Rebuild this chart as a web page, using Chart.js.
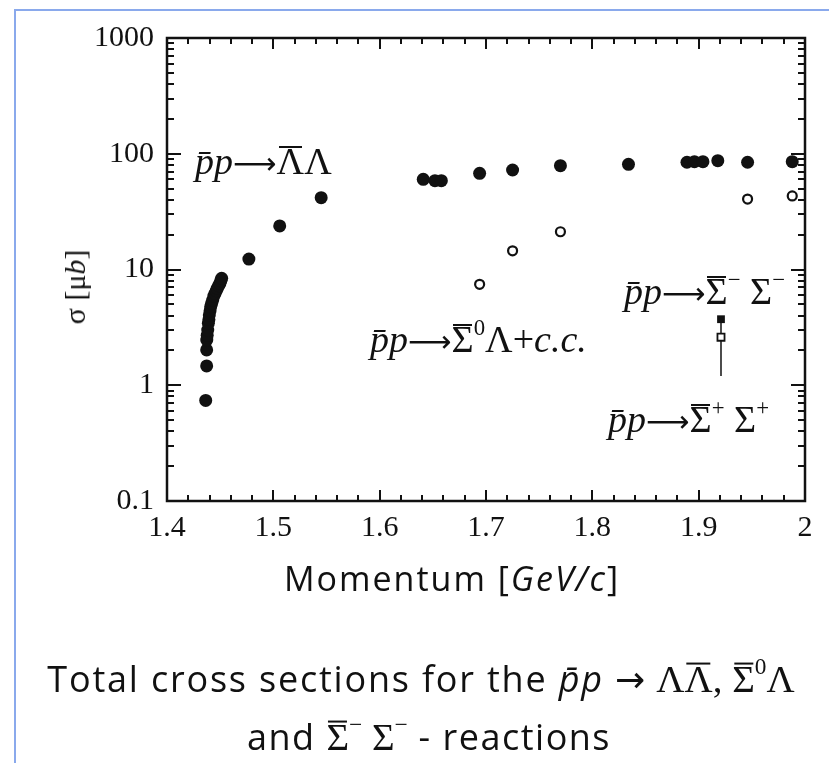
<!DOCTYPE html>
<html>
<head>
<meta charset="utf-8">
<title>Total cross sections</title>
<script src="https://cdn.jsdelivr.net/npm/chart.js@4"></script>
<style>
  body { margin: 0; background: #fff; }
  #page { position: relative; width: 829px; height: 763px; overflow: hidden; }
  #edge { position: absolute; left: 14px; top: 9px; right: -10px; bottom: -10px;
          border-left: 2px solid #8aa9ec; border-top: 2px solid #8aa9ec; }
  canvas { position: absolute; left: 0; top: 0; }
  .txt { position: absolute; white-space: nowrap; color: #111; line-height: 1; }
  .rx { font-family: 'Liberation Serif', serif; font-size: 38px; }
  .rx sup, .cap sup { font-size: 0.6em; vertical-align: 0.75em; line-height: 0; }
  /* bar over a capital, sitting just above cap height */
  .ov { position: relative; }
  .ov::before { content: ''; position: absolute; left: 8%; right: 8%; top: 0.15em;
                border-top: 2px solid #111; }
  .arr { font-family: 'DejaVu Sans', sans-serif; font-size: 0.8em; }
  .cap { font-family: 'Open Sans', sans-serif; font-size: 36px; letter-spacing: 1.5px; }
  .cap .arr { font-size: 1em; letter-spacing: 0; }
  .gr { font-family: 'Liberation Serif', serif; font-size: 1.08em; letter-spacing: 0; }
</style>
</head>
<body>
<div id="page">
  <div id="edge"></div>
  <canvas id="c" width="829" height="763"></canvas>

  <div class="txt rx" style="left:195px; top:142px"><i>p&#772;p</i><span class="arr">⟶</span><span class="ov">Λ</span>Λ</div>
  <div class="txt rx" style="left:624px; top:272px"><i>p&#772;p</i><span class="arr">⟶</span><span class="ov">Σ</span><sup>−</sup> Σ<sup>−</sup></div>
  <div class="txt rx" style="left:370px; top:320px"><i>p&#772;p</i><span class="arr">⟶</span><span class="ov">Σ</span><sup>0</sup>Λ+<i>c.c.</i></div>
  <div class="txt rx" style="left:608px; top:400px"><i>p&#772;p</i><span class="arr">⟶</span><span class="ov">Σ</span><sup>+</sup> Σ<sup>+</sup></div>

  <div class="txt rx" style="left:75px; top:287px; font-size:30px; transform:translate(-50%,-50%) rotate(-90deg)">σ [μ<i>b</i>]</div>
  <div class="txt cap" style="left:452px; top:578px; font-size:34px; letter-spacing:2px; transform:translate(-50%,-50%)">Momentum [<i>GeV/c</i>]</div>

  <div class="txt cap" style="left:421px; top:679px; letter-spacing:1.8px; transform:translate(-50%,-50%)">Total cross sections for the <i>p&#772;p</i> <span class="arr">→</span> <span class="gr">Λ<span class="ov">Λ</span>, <span class="ov">Σ</span><sup>0</sup>Λ</span></div>
  <div class="txt cap" style="left:429px; top:737px; transform:translate(-50%,-50%)">and <span class="gr"><span class="ov">Σ</span><sup>−</sup> Σ<sup>−</sup></span> - reactions</div>
</div>

<script>
// axis ticks
const X_TICKS  = [1.4, 1.5, 1.6, 1.7, 1.8, 1.9, 2.0];
const X_LABELS = ['1.4', '1.5', '1.6', '1.7', '1.8', '1.9', '2'];
const Y_TICKS  = [0.1, 1, 10, 100, 1000];
const Y_LABELS = ['0.1', '1', '10', '100', '1000'];

// pbar p -> Lambdabar Lambda  (momentum GeV/c, sigma in mub)
const LL_P   = [1.4364, 1.4373, 1.4373, 1.4374, 1.4378, 1.4383, 1.4389, 1.4394, 1.4398, 1.4405, 1.4411,
                1.4420, 1.4430, 1.4441, 1.4452, 1.4463, 1.4473, 1.4486, 1.4498, 1.4506, 1.4514,
                1.477, 1.506, 1.545, 1.641, 1.652, 1.658, 1.694, 1.725, 1.770, 1.834,
                1.889, 1.896, 1.904, 1.918, 1.946, 1.988];
const LL_SIG = [0.74, 1.47, 2.02, 2.46, 2.7, 3.0, 3.43, 3.7, 4.05, 4.4, 4.77,
                5.1, 5.45, 5.9, 6.23, 6.55, 6.88, 7.25, 7.6, 8.0, 8.39,
                12.3, 23.8, 41.7, 60.1, 58.5, 58.5, 67.8, 72.4, 78.9, 81.1,
                84.4, 85.4, 85.4, 87.1, 84.4, 85.4];

// pbar p -> Sigmabar0 Lambda + c.c.
const SL_P   = [1.694, 1.725, 1.770, 1.946, 1.988];
const SL_SIG = [7.45, 14.5, 21.2, 40.6, 43.2];

// pbar p -> Sigmabar- Sigma-
const SMM_P   = [1.921];
const SMM_SIG = [3.72];

// pbar p -> Sigmabar+ Sigma+ (with error bar)
const SPP_P   = [1.921];
const SPP_SIG = [2.6];
const SPP_LO  = [1.2];
const SPP_HI  = [3.6];

const pts = (xs, ys) => xs.map((x, i) => ({ x, y: ys[i] }));

// frame with inward major/minor ticks on all four sides
const frameTicks = {
  id: 'frameTicks',
  afterDatasetsDraw(chart) {
    const { ctx, chartArea: a, scales: { x, y } } = chart;
    ctx.save();
    ctx.strokeStyle = '#111';
    ctx.lineWidth = 2;
    ctx.beginPath();
    const tx = (v, len) => {
      const px = Math.round(x.getPixelForValue(v));
      ctx.moveTo(px, a.bottom); ctx.lineTo(px, a.bottom - len);
      ctx.moveTo(px, a.top); ctx.lineTo(px, a.top + len);
    };
    const ty = (v, len) => {
      const py = Math.round(y.getPixelForValue(v));
      ctx.moveTo(a.left, py); ctx.lineTo(a.left + len, py);
      ctx.moveTo(a.right, py); ctx.lineTo(a.right - len, py);
    };
    for (let k = 0; k <= 30; k++) {
      const v = 1.4 + k * 0.02;
      tx(v, k % 5 === 0 ? 11 : 6);
    }
    Y_TICKS.forEach((d, i) => {
      ty(d, 14);
      if (i < Y_TICKS.length - 1) for (let m = 2; m <= 9; m++) ty(d * m, 7);
    });
    ctx.stroke();
    ctx.lineWidth = 2.5;
    ctx.strokeRect(a.left, a.top, a.width, a.height);
    ctx.restore();
  }
};

// vertical error bar drawn under the open square
const errBars = {
  id: 'errBars',
  beforeDatasetsDraw(chart) {
    const { ctx, scales: { x, y } } = chart;
    ctx.save();
    ctx.strokeStyle = '#111';
    ctx.lineWidth = 1.5;
    ctx.beginPath();
    SPP_P.forEach((p, i) => {
      const px = x.getPixelForValue(p);
      ctx.moveTo(px, y.getPixelForValue(SPP_LO[i]));
      ctx.lineTo(px, y.getPixelForValue(SPP_HI[i]));
    });
    ctx.stroke();
    ctx.restore();
  }
};

const tickFont = { family: 'Liberation Serif', size: 30 };

new Chart(document.getElementById('c'), {
  type: 'scatter',
  data: {
    datasets: [
      { data: pts(LL_P, LL_SIG), pointStyle: 'circle', pointRadius: 6.5,
        backgroundColor: '#111', borderColor: '#111', borderWidth: 0 },
      { data: pts(SL_P, SL_SIG), pointStyle: 'circle', pointRadius: 4.5,
        backgroundColor: '#fff', borderColor: '#111', borderWidth: 2.2 },
      { data: pts(SMM_P, SMM_SIG), pointStyle: 'rect', pointRadius: 5.5,
        backgroundColor: '#111', borderColor: '#111', borderWidth: 0 },
      { data: pts(SPP_P, SPP_SIG), pointStyle: 'rect', pointRadius: 5,
        backgroundColor: '#fff', borderColor: '#111', borderWidth: 1.8 },
    ]
  },
  options: {
    responsive: false,
    animation: false,
    layout: { padding: { left: 0, top: 38, right: 24, bottom: 202 } },
    plugins: { legend: { display: false }, tooltip: { enabled: false } },
    scales: {
      x: {
        type: 'linear', min: 1.4, max: 2.0,
        grid: { display: false, drawTicks: false }, border: { display: false },
        afterBuildTicks: s => { s.ticks = X_TICKS.map(value => ({ value })); },
        afterFit: s => { s.height = 60; },
        ticks: { padding: 9, font: tickFont, color: '#111', maxRotation: 0,
                 callback: (v, i) => X_LABELS[i] }
      },
      y: {
        type: 'logarithmic', min: 0.1, max: 1000,
        grid: { display: false, drawTicks: false }, border: { display: false },
        afterBuildTicks: s => { s.ticks = Y_TICKS.map(value => ({ value })); },
        afterFit: s => { s.width = 167; },
        ticks: { padding: 13, font: tickFont, color: '#111',
                 callback: (v, i) => Y_LABELS[i] }
      }
    }
  },
  plugins: [frameTicks, errBars]
});
</script>
</body>
</html>
